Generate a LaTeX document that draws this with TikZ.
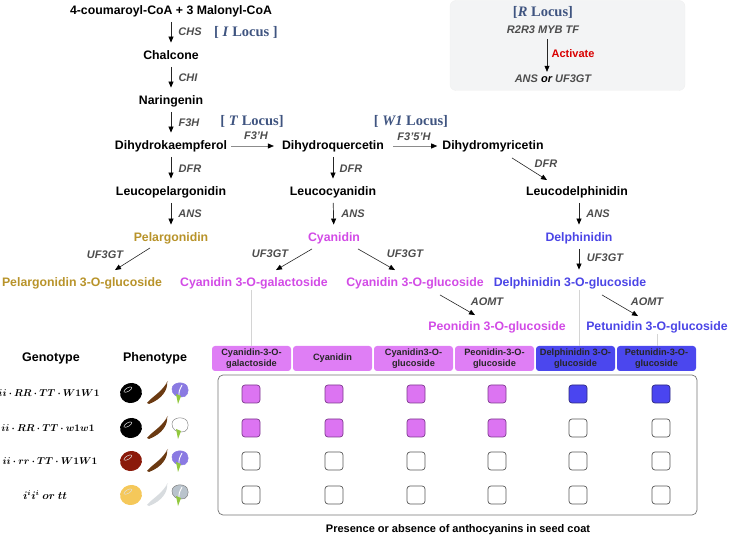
\documentclass[tikz,border=0pt]{standalone}
\usepackage[no-math]{fontspec}
\setmainfont{Liberation Sans}
\newfontfamily\serifloc{Liberation Serif}
\usepackage{bm}
\usetikzlibrary{arrows.meta,calc}
\definecolor{cgold}{HTML}{B8932A}
\definecolor{cmag}{HTML}{D24BE6}
\definecolor{cblu}{HTML}{4B45E6}
\definecolor{cloc}{HTML}{3F5480}
\definecolor{cenz}{HTML}{4D4D4D}
\definecolor{hpink}{HTML}{DF7EF5}
\definecolor{hblue}{HTML}{4B47EE}
\definecolor{spink}{HTML}{DC74F2}
\definecolor{spinkd}{HTML}{7E3A8E}
\definecolor{sblue}{HTML}{4A45F0}
\definecolor{sblued}{HTML}{2E2A80}
\definecolor{rboxfill}{HTML}{F3F4F5}
\definecolor{podbrown}{HTML}{6B3A12}
\definecolor{podgray}{HTML}{D8DCDF}
\definecolor{flpurple}{HTML}{8A7AE2}
\definecolor{flgray}{HTML}{B9C3CC}
\definecolor{seedred}{HTML}{8B1A0A}
\definecolor{seedyellow}{HTML}{F5C85A}
\definecolor{stemgreen}{HTML}{92C83E}
\definecolor{linegray}{HTML}{D4D4D4}
\begin{document}
\begin{tikzpicture}[x=1pt,y=-1pt,
  cmp/.style={font=\fontsize{12.3}{14}\selectfont\bfseries, text height=9pt, text depth=2.5pt, inner sep=1pt},
  enz/.style={font=\fontsize{11}{13}\selectfont\bfseries\itshape, text=cenz, inner sep=0pt},
  loc/.style={font=\fontsize{14.5}{16}\selectfont\serifloc\bfseries, text=cloc, inner sep=0pt},
  arr/.style={draw=black!85, line width=0.7pt, -{Triangle[length=6pt,width=5pt,color=black]}, shorten <=4pt, shorten >=6.5pt},
  harr/.style={draw=black!45, line width=0.7pt, -{Triangle[length=6pt,width=5pt,color=black]}},
  darr/.style={draw=black!85, line width=0.6pt, -{Triangle[length=6pt,width=5pt,color=black]}},
  vline/.style={draw=linegray, line width=0.6pt},
  hdr/.style={minimum width=79pt, minimum height=25pt, inner sep=1pt, rounded corners=3pt, align=center,
     font=\fontsize{9.2}{10.5}\selectfont\bfseries, text=black!85},
  sq/.style={minimum size=18pt, inner sep=0pt, rounded corners=3pt, line width=0.7pt},
  sqp/.style={sq, fill=spink, draw=spinkd},
  sqb/.style={sq, fill=sblue, draw=sblued},
  sqe/.style={sq, fill=white, draw=black!65},
  gen/.style={font=\fontsize{9.8}{11}\selectfont, inner sep=0pt},
  rtxt/.style={font=\fontsize{11}{13}\selectfont\bfseries\itshape, text=cenz, inner sep=0pt, text height=8pt, text depth=2pt}
]
\useasboundingbox (0,0) rectangle (729,537);

% R locus box
\node[draw=black!6, fill=rboxfill, rounded corners=6pt, minimum width=235pt, minimum height=90pt, inner sep=0pt] (rbox) at (567.5,45.5) {};
\node[loc] (rloc) at (543,12) {[\textit{R} Locus]};
\node[rtxt] (myb) at (543,31) {R2R3 MYB TF};
\node[rtxt] (anstf) at (553,80) {ANS \textcolor{black}{or} UF3GT};
\coordinate (rx) at (547,0);
\draw[darr, shorten <=3pt, shorten >=3pt] (myb.south -| rx) -- (anstf.north -| rx);
\node[font=\fontsize{11}{13}\selectfont\bfseries, text=red!85!black, inner sep=0pt] (act) at (573,54) {Activate};

% pathway compounds
\node[cmp] (start) at (171,11) {4-coumaroyl-CoA + 3 Malonyl-CoA};
\node[cmp] (chal) at (171,56) {Chalcone};
\node[cmp] (nar) at (171,101) {Naringenin};
\node[cmp] (dhk) at (171,146) {Dihydrokaempferol};
\node[cmp] (dhq) at (333,146) {Dihydroquercetin};
\node[cmp] (dhm) at (493,146) {Dihydromyricetin};
\node[cmp] (lpel) at (171,192) {Leucopelargonidin};
\node[cmp] (lcy) at (333,192) {Leucocyanidin};
\node[cmp] (ldel) at (577,192) {Leucodelphinidin};
\node[cmp, text=cgold] (pel) at (171,238) {Pelargonidin};
\node[cmp, text=cmag] (cy) at (334,238) {Cyanidin};
\node[cmp, text=cblu] (del) at (579,238) {Delphinidin};
\node[cmp, text=cgold] (pelg) at (82,283) {Pelargonidin 3-O-glucoside};
\node[cmp, text=cmag] (cygal) at (254,283) {Cyanidin 3-O-galactoside};
\node[cmp, text=cmag] (cyglu) at (415,283) {Cyanidin 3-O-glucoside};
\node[cmp, text=cblu] (delglu) at (570,283) {Delphinidin 3-O-glucoside};
\node[cmp, text=cmag] (peo) at (497,327) {Peonidin 3-O-glucoside};
\node[cmp, text=cblu] (pet) at (657,327) {Petunidin 3-O-glucoside};

% locus labels
\node[loc] (iloc) at (246,32) {[ \textit{I} Locus ]};
\node[loc] (tloc) at (252,121) {[ \textit{T} Locus]};
\node[loc] (wloc) at (411,121) {[ \textit{W1} Locus]};

% enzyme labels
\node[enz] (e1) at (190,32) {CHS};
\node[enz] (e2) at (188,78) {CHI};
\node[enz] (e3) at (189,123) {F3H};
\node[enz] (e4) at (256,136) {F3'H};
\node[enz] (e5) at (414,137) {F3'5'H};
\node[enz] (e6) at (190,169) {DFR};
\node[enz] (e7) at (351,169) {DFR};
\node[enz] (e8) at (546,164) {DFR};
\node[enz] (e9) at (190,214) {ANS};
\node[enz] (e10) at (353,214) {ANS};
\node[enz] (e11) at (598,214) {ANS};
\node[enz] (e12) at (105,255) {UF3GT};
\node[enz] (e13) at (270,254) {UF3GT};
\node[enz] (e14) at (405,254) {UF3GT};
\node[enz] (e15) at (605,258) {UF3GT};
\node[enz] (e16) at (487,302) {AOMT};
\node[enz] (e17) at (647,302) {AOMT};

% arrows
\draw[arr] (start) -- (chal);
\draw[arr] (chal) -- (nar);
\draw[arr] (nar) -- (dhk);
\draw[arr] (dhk) -- (lpel);
\draw[arr] (lpel) -- (pel);
\draw[arr] (dhq) -- (lcy);
\draw[arr] (lcy) -- (cy);
\draw[arr] (ldel.south -| del) -- (del.north);
\draw[arr] (del.south) -- (del.south |- delglu.north);
\draw[harr, shorten <=3pt, shorten >=7pt] (dhk.east) -- (dhq.west);
\draw[harr, shorten <=8pt, shorten >=4pt] (dhq.east) -- (dhm.west);
\draw[darr] ($(dhm.south)+(19,5)$) -- ($(ldel.north)+(-30,-5)$);
\draw[darr] ($(pel.south)+(-21,3)$) -- ($(pelg.north)+(33,-6)$);
\draw[darr] ($(cy.south)+(-22,4)$) -- ($(cygal.north)+(22,-6)$);
\draw[darr] ($(cy.south)+(24,4)$) -- ($(cyglu.north)+(-20,-6)$);
\draw[darr] ($(cyglu.south)+(25,5)$) -- ($(peo.north)+(-22,-5)$);
\draw[darr] ($(delglu.south)+(32,5)$) -- ($(pet.north)+(-19,-4)$);

% header boxes
\node[hdr, fill=hpink] (h1) at (251.5,358.5) {Cyanidin-3-O-\\galactoside};
\node[hdr, fill=hpink] (h2) at (332.5,358.5) {Cyanidin};
\node[hdr, fill=hpink] (h3) at (413.5,358.5) {Cyanidin3-O-\\glucoside};
\node[hdr, fill=hpink] (h4) at (494.5,358.5) {Peonidin-3-O-\\glucoside};
\node[hdr, fill=hblue] (h5) at (575.5,358.5) {Delphinidin 3-O-\\glucoside};
\node[hdr, fill=hblue] (h6) at (656.5,358.5) {Petunidin-3-O-\\glucoside};

% connector lines to headers
\draw[vline] (cygal.south -| h1) -- (h1.north);
\draw[vline] ($(cy.south)+(2,0)$) -- ($(cy.south)+(2,0)$ |- h2.north);
\draw[vline] ($(cyglu.south)+(3,0)$) -- ($(cyglu.south)+(3,0)$ |- h3.north);
\draw[vline] ($(peo.south)+(2,0)$) -- ($(peo.south)+(2,0)$ |- h4.north);
\draw[vline] (delglu.south -| del) -- (h5.north -| del);
\draw[vline] (pet.south) -- (pet.south |- h6.north);

% table frame
\node[draw=black!55, rounded corners=5pt, line width=0.7pt, minimum width=479pt, minimum height=140pt, inner sep=0pt] (tab) at (457.5,445) {};

\foreach \c/\xx/\st in {1/251/sqp,2/334/sqp,3/416/sqp,4/497/sqp,5/578/sqb,6/661/sqb}
  \node[\st] (sa\c) at (\xx,394) {};
\foreach \c/\xx/\st in {1/251/sqp,2/334/sqp,3/416/sqp,4/497/sqp,5/578/sqe,6/661/sqe}
  \node[\st] (sb\c) at (\xx,428) {};
\foreach \c/\xx in {1/251,2/334,3/416,4/497,5/578,6/661}
  \node[sqe] (sc\c) at (\xx,461) {};
\foreach \c/\xx in {1/251,2/334,3/416,4/497,5/578,6/661}
  \node[sqe] (sd\c) at (\xx,495) {};

\node[font=\fontsize{11}{13}\selectfont\bfseries, inner sep=0pt] (cap) at (458,530) {Presence or absence of anthocyanins in seed coat};

% genotype / phenotype
\node[font=\fontsize{12.5}{14}\selectfont\bfseries, inner sep=0pt] (gh) at (51,358) {Genotype};
\node[font=\fontsize{12.5}{14}\selectfont\bfseries, inner sep=0pt] (ph) at (155,358) {Phenotype};
\node[gen] (g1) at (49,393) {$\bm{ii\cdot RR\cdot TT\cdot W1W1}$};
\node[gen] (g2) at (48,428) {$\bm{ii\cdot RR\cdot TT\cdot w1w1}$};
\node[gen] (g3) at (50,461) {$\bm{ii\cdot rr\cdot TT\cdot W1W1}$};
\node[gen] (g4) at (45,495) {\fontsize{10.5}{12}\selectfont$\bm{i^ii^i}$ $\bm{or}$ $\bm{tt}$};

\foreach \yy/\sc/\pc/\ff/\fd in {393/black/podbrown/flpurple/flpurple, 428/black/podbrown/white/black!45, 461/seedred/podbrown/flpurple/flpurple, 495/seedyellow/podgray/flgray/black!50}{
  \begin{scope}[shift={(131,\yy)}]
    \fill[\sc, rotate=15] (0,0) ellipse [x radius=11pt, y radius=10pt];
    \draw[white!75!gray, line width=0.5pt, rotate=30] (-1,-4.5) ellipse [x radius=4.5pt, y radius=1.8pt];
  \end{scope}
  \begin{scope}[shift={(157,\yy)}]
    \fill[\pc] (-10,10) .. controls (-4,3) and (3,0) .. (9,-9) -- (10,-11) .. controls (11,-3) and (5,6) .. (-8,11) -- cycle;
    \draw[\pc!60!white, line width=0.4pt] (9,-9) -- (11,-12);
  \end{scope}
  \begin{scope}[shift={(180,\yy)}]
    \filldraw[fill=\ff, draw=\fd, line width=0.5pt] (-8,-4) .. controls (-8,-11) and (4,-12) .. (7,-7) .. controls (10,-2) and (7,5) .. (1,4) .. controls (-4,4) and (-8,1) .. (-8,-4) -- cycle;
    \draw[white, line width=0.9pt] (-1,3) .. controls (-1,-2) .. (2,-8);
    \fill[stemgreen] (-4,1) -- (1,3) -- (-2,11) -- cycle;
  \end{scope}
}
\end{tikzpicture}
\end{document}
